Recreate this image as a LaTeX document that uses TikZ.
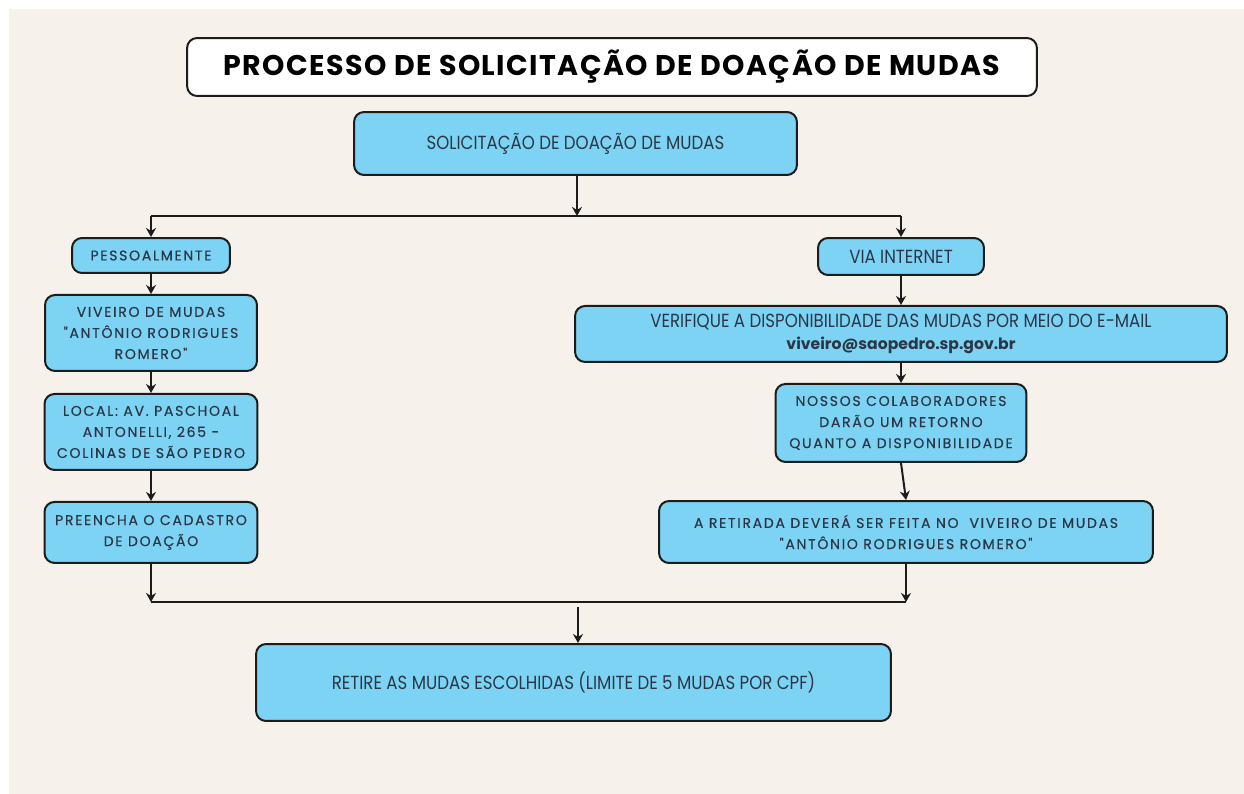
\documentclass[tikz,border=0pt]{standalone}
\usepackage{fontspec}
\setmainfont{Poppins}
\newfontfamily\narrowfont[FakeStretch=0.875]{Poppins}
\newfontfamily\widefont[LetterSpace=12,FakeBold=0.4]{Poppins}
\usetikzlibrary{positioning,arrows.meta}
\definecolor{cream}{HTML}{F6F2EB}
\definecolor{sky}{HTML}{7DD3F4}
\definecolor{ink}{HTML}{2B3746}
\definecolor{edge}{HTML}{1C1C1C}

\begin{document}
\begin{tikzpicture}[x=0.02cm,y=-0.02cm,
  box/.style={draw=edge,line width=0.4mm,rounded corners=2mm,fill=sky,align=center,text=ink,inner sep=0pt,font=\widefont\fontsize{8}{12}\selectfont},
  slim/.style={box,font=\narrowfont\fontsize{10.8}{12.5}\selectfont},
  arrow/.style={-{Stealth[length=1.8mm,width=2mm]},line width=0.4mm,edge},
  link/.style={line width=0.4mm,edge}]
\useasboundingbox (0,0) rectangle (1244,794);
\fill[cream] (9,9) rectangle (1244,794);
% title
\node[draw=edge,line width=0.4mm,rounded corners=2mm,fill=white,minimum width=170mm,minimum height=11.6mm,
  font=\addfontfeatures{LetterSpace=5}\bfseries\fontsize{16.2}{18}\selectfont,text=black] (title) at (612,67) {PROCESSO DE SOLICITAÇÃO DE DOAÇÃO DE MUDAS};
\node[slim,minimum width=88.6mm,minimum height=12.6mm] (sol) at (575.5,143.5) {SOLICITAÇÃO DE DOAÇÃO DE MUDAS};
% left branch
\node[box,minimum width=31.6mm,minimum height=7mm] (pess) at (151,255.5) {PESSOALMENTE};
\node[box,minimum width=42.4mm,minimum height=15.2mm,below=4mm of pess] (viv) {VIVEIRO DE MUDAS\\"ANTÔNIO RODRIGUES\\ROMERO"};
\node[box,minimum width=42.6mm,minimum height=15.2mm,below=4.2mm of viv] (loc) {LOCAL: AV. PASCHOAL\\ANTONELLI, 265 -\\COLINAS DE SÃO PEDRO};
\node[box,minimum width=42.6mm,minimum height=12.2mm,below=6mm of loc] (pre) {PREENCHA O CADASTRO\\DE DOAÇÃO};
% right branch
\node[slim,minimum width=33.2mm,minimum height=7.4mm] (via) at (901,256.5) {VIA INTERNET};
\node[slim,minimum width=130.4mm,minimum height=11.2mm,below=5.8mm of via] (ver) {VERIFIQUE A DISPONIBILIDADE DAS MUDAS POR MEIO DO E-MAIL\\{\normalfont\bfseries\fontsize{8.9}{13}\selectfont viveiro@saopedro.sp.gov.br}};
\node[box,minimum width=50.2mm,minimum height=15.6mm,below=4mm of ver] (nos) {NOSSOS COLABORADORES\\DARÃO UM RETORNO\\QUANTO A DISPONIBILIDADE};
\node[box,minimum width=98.8mm,minimum height=12.4mm] (ret) at (906,532) {A RETIRADA DEVERÁ SER FEITA NO\ \ VIVEIRO DE MUDAS\\"ANTÔNIO RODRIGUES ROMERO"};
\node[slim,minimum width=127mm,minimum height=15.4mm] (fim) at (573.5,682.5) {RETIRE AS MUDAS ESCOLHIDAS (LIMITE DE 5 MUDAS POR CPF)};
% connectors
\coordinate (split) at (577,216);
\coordinate (join) at (578,602);
\draw[arrow] (sol.south -| split) -- (split);
\draw[link] (split -| pess) -- (split -| via);
\draw[arrow] (split -| pess) -- (pess);
\draw[arrow] (split -| via) -- (via);
\draw[arrow] (pess) -- (viv);
\draw[arrow] (viv) -- (loc);
\draw[arrow] (loc) -- (pre);
\draw[arrow] (via) -- (ver);
\draw[arrow] (ver) -- (nos);
\draw[arrow] (nos.south) -- (ret.north);
\draw[arrow] (pre.south) -- (join -| pre);
\draw[arrow] (ret.south) -- (join -| ret);
\draw[link] (join -| pre) -- (join -| ret);
\draw[arrow] ([yshift=-1mm]join) -- (join |- fim.north);
\end{tikzpicture}
\end{document}
